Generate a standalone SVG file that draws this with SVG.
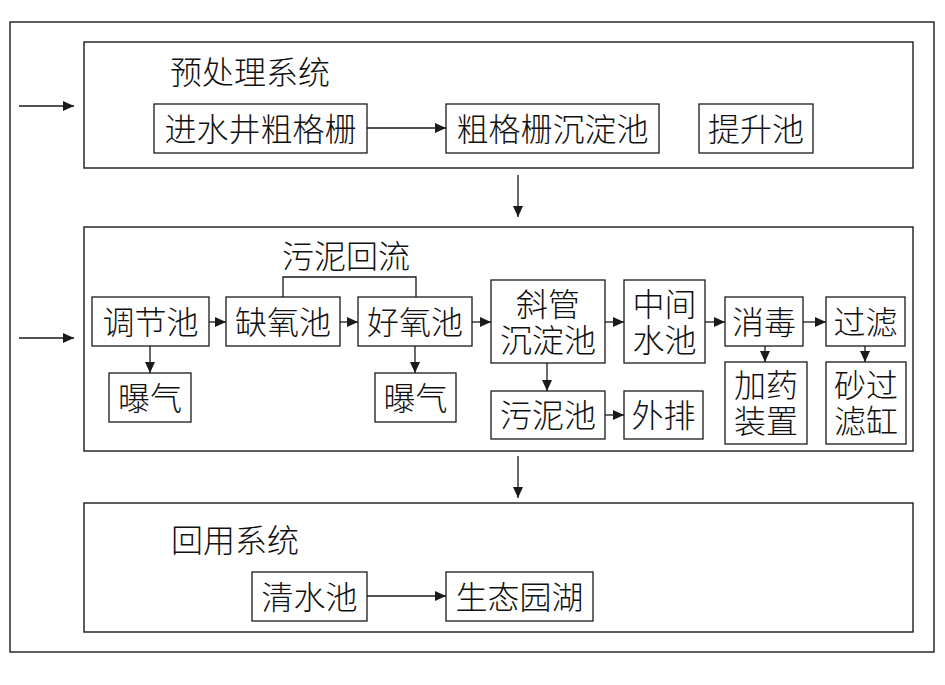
<svg xmlns="http://www.w3.org/2000/svg" width="945" height="685" viewBox="0 0 945 685">
<defs>
<marker id="ah" markerUnits="userSpaceOnUse" markerWidth="12" markerHeight="12" viewBox="0 0 12 12" refX="11" refY="6" orient="auto">
<path d="M0,1 L11,6 L0,11 Z" fill="#1a1a1a"/>
</marker>
<style>
.frame{fill:none;stroke:#1a1a1a;stroke-width:1.4}
.box{fill:#fff;stroke:#1a1a1a;stroke-width:1.3}
.t{font-family:"Noto Sans CJK SC","Noto Sans CJK JP",sans-serif;font-size:32px;font-weight:300;fill:#111;text-anchor:middle}
.title{font-family:"Noto Sans CJK SC","Noto Sans CJK JP",sans-serif;font-size:32px;font-weight:300;fill:#111}
.c{fill:none;stroke:#1a1a1a;stroke-width:1.3}
.a{fill:none;stroke:#1a1a1a;stroke-width:1.3;marker-end:url(#ah)}
</style>
</defs>
<rect width="945" height="685" fill="#fff"/>
<rect class="frame" x="10" y="22" width="924" height="630"/>

<g id="pretreat">
<rect class="frame" x="84" y="42" width="829" height="126"/>
<text class="title" x="170" y="84">预处理系统</text>
</g>
<g id="biological">
<rect class="frame" x="84" y="227" width="829" height="224"/>
<text class="title" x="282" y="268">污泥回流</text>
</g>
<g id="reuse">
<rect class="frame" x="84" y="503" width="829" height="129"/>
<text class="title" x="171" y="552">回用系统</text>
</g>

<g id="n-jinshui"><rect class="box" x="154" y="104" width="213" height="49"/><text class="t" x="260.5" y="141">进水井粗格栅</text></g>
<g id="n-cugeshan"><rect class="box" x="446" y="104" width="213" height="49"/><text class="t" x="552.5" y="141">粗格栅沉淀池</text></g>
<g id="n-tisheng"><rect class="box" x="699" y="104" width="114" height="49"/><text class="t" x="756" y="141">提升池</text></g>

<g id="n-tiaojie"><rect class="box" x="92" y="297" width="117" height="49"/><text class="t" x="150.5" y="334">调节池</text></g>
<g id="n-queyang"><rect class="box" x="226" y="297" width="114" height="49"/><text class="t" x="283" y="334">缺氧池</text></g>
<g id="n-haoyang"><rect class="box" x="358" y="297" width="114" height="49"/><text class="t" x="415" y="334">好氧池</text></g>
<g id="n-baoqi1"><rect class="box" x="109" y="373" width="82" height="49"/><text class="t" x="150" y="410">曝气</text></g>
<g id="n-baoqi2"><rect class="box" x="375" y="373" width="81" height="49"/><text class="t" x="415.5" y="410">曝气</text></g>
<g id="n-xieguan"><rect class="box" x="491" y="280" width="114" height="83"/><text class="t" x="548" y="316">斜管<tspan x="548" dy="36">沉淀池</tspan></text></g>
<g id="n-zhongjian"><rect class="box" x="624" y="280" width="81" height="83"/><text class="t" x="664.5" y="316">中间<tspan x="664.5" dy="36">水池</tspan></text></g>
<g id="n-xiaodu"><rect class="box" x="725" y="297" width="78" height="49"/><text class="t" x="764" y="334">消毒</text></g>
<g id="n-guolv"><rect class="box" x="826" y="297" width="79" height="49"/><text class="t" x="865.5" y="334">过滤</text></g>
<g id="n-jiayao"><rect class="box" x="725" y="362" width="82" height="82"/><text class="t" x="766" y="397">加药<tspan x="766" dy="36">装置</tspan></text></g>
<g id="n-shaguolv"><rect class="box" x="826" y="362" width="80" height="82"/><text class="t" x="866" y="397">砂过<tspan x="866" dy="36">滤缸</tspan></text></g>
<g id="n-wuni"><rect class="box" x="491" y="391" width="114" height="48"/><text class="t" x="548" y="427">污泥池</text></g>
<g id="n-waipai"><rect class="box" x="624" y="391" width="79" height="48"/><text class="t" x="663.5" y="427">外排</text></g>

<g id="n-qingshui"><rect class="box" x="252" y="572" width="115" height="49"/><text class="t" x="309.5" y="609">清水池</text></g>
<g id="n-shengtai"><rect class="box" x="446" y="572" width="147" height="49"/><text class="t" x="519.5" y="609">生态园湖</text></g>

<g id="connectors">
<line class="a" x1="19" y1="106" x2="74" y2="106"/>
<line class="a" x1="19" y1="338" x2="74" y2="338"/>
<line class="a" x1="367" y1="128" x2="446" y2="128"/>
<line class="a" x1="518" y1="175" x2="518" y2="217"/>
<line class="a" x1="518" y1="456" x2="518" y2="498"/>
<line class="a" x1="367" y1="596" x2="446" y2="596"/>
<polyline class="c" points="283,297 283,277 416,277 416,297"/>
<line class="a" x1="209" y1="322" x2="226" y2="322"/>
<line class="a" x1="340" y1="322" x2="358" y2="322"/>
<line class="a" x1="472" y1="322" x2="491" y2="322"/>
<line class="a" x1="605" y1="322" x2="624" y2="322"/>
<line class="a" x1="705" y1="322" x2="725" y2="322"/>
<line class="a" x1="803" y1="322" x2="826" y2="322"/>
<line class="a" x1="150" y1="346" x2="150" y2="373"/>
<line class="a" x1="415" y1="346" x2="415" y2="373"/>
<line class="a" x1="547" y1="363" x2="547" y2="391"/>
<line class="a" x1="605" y1="415" x2="624" y2="415"/>
<line class="a" x1="765" y1="346" x2="765" y2="362"/>
<line class="a" x1="865" y1="346" x2="865" y2="362"/>
</g>
</svg>
